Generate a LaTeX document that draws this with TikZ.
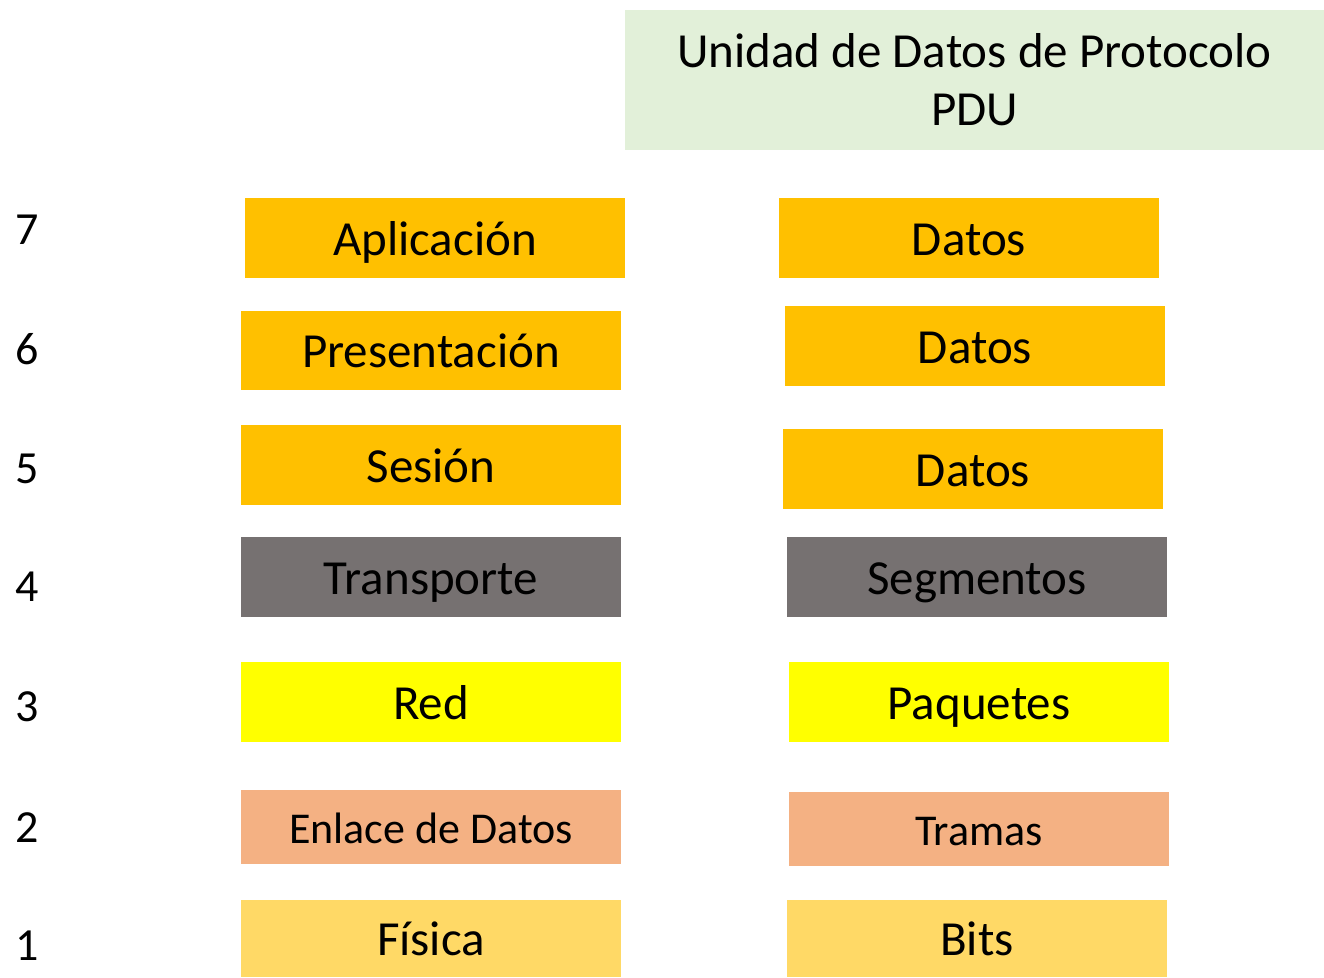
\documentclass[tikz,border=0pt]{standalone}
\usepackage{fontspec}
\setmainfont{Carlito}
\definecolor{hdr}{HTML}{E2F0D9}
\definecolor{orng}{HTML}{FFC000}
\definecolor{gry}{HTML}{767171}
\definecolor{ylw}{HTML}{FFFF00}
\definecolor{slmn}{HTML}{F4B183}
\definecolor{gold}{HTML}{FFD966}
\begin{document}
\begin{tikzpicture}[x=1pt,y=-1pt,
  layer/.style={inner sep=0pt, minimum width=380pt, text height=42pt, text depth=8pt,
                font=\fontsize{49}{58}\selectfont, text=black},
  small/.style={text height=38pt, text depth=6pt, font=\fontsize{44}{52}\selectfont},
  num/.style={inner sep=0pt, font=\fontsize{46}{54}\selectfont, text=black}]
\useasboundingbox (0,0) rectangle (1324,977);
\fill[white] (0,0) rectangle (1324,977);
% header
\node[fill=hdr, inner sep=0pt, minimum width=699pt, minimum height=140pt, align=center,
      font=\fontsize{49}{58}\selectfont] (hdr) at (974.5,80) {Unidad de Datos de Protocolo\\PDU};
% left column
\node[layer, fill=orng, minimum height=80pt] (l7) at (435,238) {Aplicación};
\node[layer, fill=orng, minimum height=79pt] (l6) at (431,350.5) {Presentación};
\node[layer, fill=orng, minimum height=80pt] (l5) at (431,465) {Sesión};
\node[layer, fill=gry, minimum height=80pt] (l4) at (431,577) {Transporte};
\node[layer, fill=ylw, minimum height=80pt] (l3) at (431,702) {Red};
\node[layer, small, fill=slmn, minimum height=74pt] (l2) at (431,827) {Enlace de Datos};
\node[layer, fill=gold, minimum height=77pt] (l1) at (431,938.5) {Física};
% right column
\node[layer, fill=orng, minimum height=80pt] (r7) at (969,238) {Datos};
\node[layer, fill=orng, minimum height=80pt] (r6) at (975,346) {Datos};
\node[layer, fill=orng, minimum height=80pt] (r5) at (973,469) {Datos};
\node[layer, fill=gry, minimum height=80pt] (r4) at (977,577) {Segmentos};
\node[layer, fill=ylw, minimum height=80pt] (r3) at (979,702) {Paquetes};
\node[layer, small, fill=slmn, minimum height=74pt] (r2) at (979,829) {Tramas};
\node[layer, fill=gold, minimum height=77pt] (r1) at (977,938.5) {Bits};
% numbers
\node[num] (n7) at (27,230) {7};
\node[num] (n6) at (27,349) {6};
\node[num] (n5) at (27,469) {5};
\node[num] (n4) at (27,587) {4};
\node[num] (n3) at (27,707) {3};
\node[num] (n2) at (27,828) {2};
\node[num] (n1) at (27,946) {1};
\end{tikzpicture}
\end{document}
